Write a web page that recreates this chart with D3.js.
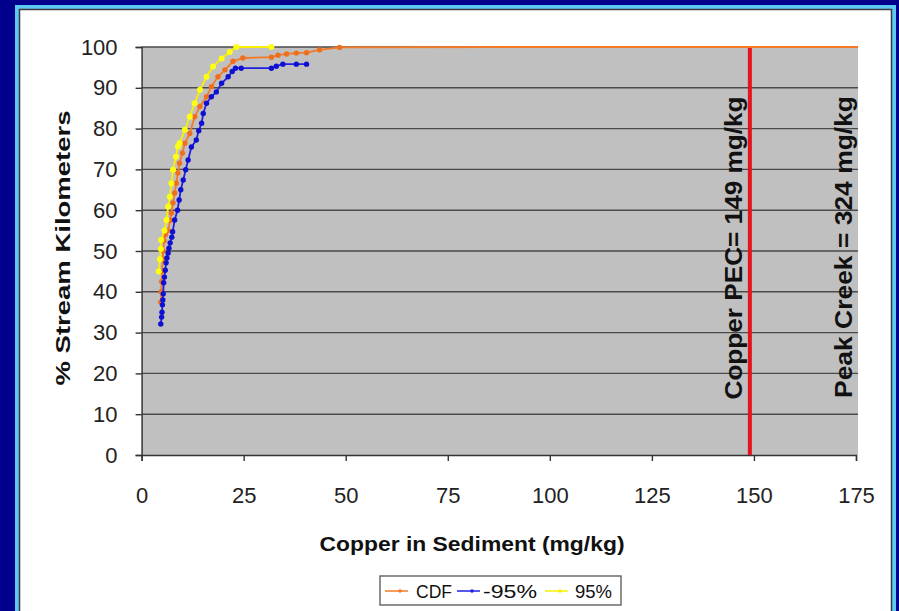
<!DOCTYPE html>
<html>
<head>
<meta charset="utf-8">
<script src="https://cdn.jsdelivr.net/npm/d3@7/dist/d3.min.js"></script>
<style>
  html, body { margin: 0; padding: 0; background: #00008c; }
  svg { display: block; }
  text { font-family: "Liberation Sans", Arial, sans-serif; }
</style>
</head>
<body>
<svg id="chart" width="899" height="611"></svg>
<script>
// Cumulative distribution of copper in sediment, with 95% confidence bounds.
// Each pair is [copper mg/kg, % stream kilometers].
const cdfSeries = [
  [4.7,37.5],[4.8,40],[4.9,42.5],[5.0,45],[5.2,48],[5.3,50],[5.5,52.5],[5.8,54],
  [6.5,55],[7.0,57.5],[7.3,59.3],[7.7,61.8],[8.1,64.2],[8.5,66.6],[8.9,69.1],
  [9.3,71.5],[10.0,74.0],[10.6,76.4],[11.8,78.8],[13.0,82.9],[14.3,85.4],
  [15.9,87.8],[17.1,90.3],[18.7,92.7],[20.4,94.4],[22.4,96.5],[24.8,97.3],
  [31.8,97.5],[33.4,98.0],[35.5,98.3],[37.9,98.5],[40.4,98.6],[43.6,99.3],
  [48.5,99.9],[92,100],[324,100]
];
const lowerSeries = [
  [4.7,32.1],[4.9,33.8],[5.0,35.0],[5.1,36.8],[5.2,38.0],[5.3,39.5],[5.4,42.2],
  [5.6,43.6],[5.8,45.3],[6.0,47.1],[6.2,48.3],[6.5,49.5],[6.7,50.7],[7.0,52.0],
  [7.4,53.4],[7.6,54.7],[8.1,57.6],[8.8,60.0],[9.2,62.5],[9.6,65.0],[10.2,67.4],
  [10.8,69.9],[11.4,72.3],[12.2,75.5],[13.4,77.2],[14.0,79.5],[14.7,81.3],
  [15.1,83.7],[15.9,86.2],[17.1,87.8],[18.3,89.0],[19.6,91.1],[21.2,92.7],
  [22.2,94.0],[23.0,94.8],[24.4,94.8],[31.8,94.8],[33.0,95.3],[34.6,95.8],
  [37.9,95.8],[40.4,95.8]
];
const upperSeries = [
  [4.2,45],[4.5,48],[4.7,50.5],[4.8,52.7],[5.6,55],[6.1,57.6],[6.5,60.9],
  [6.9,63.3],[7.3,66.6],[7.7,69.9],[8.4,73.1],[8.9,75.6],[9.3,76.4],[10.6,79.7],
  [11.8,82.9],[13.0,86.2],[14.3,89.5],[15.9,92.7],[17.5,95.2],[19.6,97.2],
  [21.6,98.8],[23.2,100],[31.8,100]
];
const seriesNames = ["CDF", "-95%", "95%"];
const xTicks = [0, 25, 50, 75, 100, 125, 150, 175];
const yTicks = [0, 10, 20, 30, 40, 50, 60, 70, 80, 90, 100];
const pecValue = 149;
const peakValue = 324;

const svg = d3.select("#chart");

// slide frame and white chart panel
svg.append("rect").attr("x", 0).attr("y", 0).attr("width", 899).attr("height", 611).attr("fill", "#00008c");
svg.append("rect").attr("x", 15).attr("y", 5).attr("width", 881).attr("height", 620).attr("fill", "#5ec8f4");
svg.append("rect").attr("x", 19.5).attr("y", 9.5).attr("width", 872).attr("height", 620)
  .attr("fill", "#ffffff").attr("stroke", "#3a3a3a").attr("stroke-width", 1.5);

const plot = { left: 141.6, right: 856, top: 47, bottom: 455 };
const x = d3.scaleLinear().domain([0, 175]).range([plot.left, plot.right]);
const y = d3.scaleLinear().domain([0, 100]).range([plot.bottom, plot.top]);

svg.append("defs").append("clipPath").attr("id", "plotClip")
  .append("rect").attr("x", plot.left).attr("y", plot.top - 4)
  .attr("width", plot.right - plot.left + 2).attr("height", plot.bottom - plot.top + 8);

// plot background
svg.append("rect").attr("x", plot.left).attr("y", plot.top)
  .attr("width", plot.right - plot.left + 2).attr("height", plot.bottom - plot.top)
  .attr("fill", "#c0c0c0");

// horizontal gridlines
svg.append("g").selectAll("line").data(yTicks.filter(d => d > 0)).join("line")
  .attr("x1", plot.left).attr("x2", plot.right + 2)
  .attr("y1", d => y(d)).attr("y2", d => y(d))
  .attr("stroke", "#4a4a4a").attr("stroke-width", 1.4);

// axes
const yAxis = svg.append("g").attr("transform", `translate(${plot.left},0)`)
  .call(d3.axisLeft(y).tickValues(yTicks).tickSize(6).tickPadding(5));
const xAxis = svg.append("g").attr("transform", `translate(0,${plot.bottom})`)
  .call(d3.axisBottom(x).tickValues(xTicks).tickSize(6).tickPadding(34));
[yAxis, xAxis].forEach(g => {
  g.select(".domain").attr("stroke", "#333").attr("stroke-width", 1.4);
  g.selectAll(".tick line").attr("stroke", "#333").attr("stroke-width", 1.4);
  g.selectAll(".tick text").attr("fill", "#222").attr("font-size", 22)
    .attr("font-family", "'Liberation Sans', Arial, sans-serif");
});
yAxis.selectAll(".tick text").attr("x", -24);
xAxis.selectAll(".tick text").attr("dy", "0.36em");

// threshold line: copper PEC
svg.append("line")
  .attr("x1", x(pecValue)).attr("x2", x(pecValue))
  .attr("y1", y(0)).attr("y2", y(100))
  .attr("stroke", "#e3141c").attr("stroke-width", 4);

// series
const line = d3.line().x(d => x(d[0])).y(d => y(d[1]));
const layers = [
  { data: cdfSeries, color: "#f47a25", dot: "#ef6f1f", r: 2.7 },
  { data: lowerSeries, color: "#2020e0", dot: "#1010d0", r: 2.7 },
  { data: upperSeries, color: "#f8f000", dot: "#ffff10", r: 3 }
];
const seriesG = svg.append("g").attr("clip-path", "url(#plotClip)");
layers.forEach(s => {
  seriesG.append("path").datum(s.data).attr("d", line)
    .attr("fill", "none").attr("stroke", s.color).attr("stroke-width", 1.8);
  seriesG.append("g").selectAll("circle").data(s.data.filter(d => d[0] < 60)).join("circle")
    .attr("cx", d => x(d[0])).attr("cy", d => y(d[1])).attr("r", s.r)
    .attr("fill", s.dot);
});

// vertical annotations
svg.append("text")
  .attr("transform", `translate(${x(pecValue) - 8},248) rotate(-90)`)
  .attr("text-anchor", "middle").attr("font-size", 24).attr("font-weight", "bold")
  .attr("fill", "#111").attr("textLength", 303).attr("lengthAdjust", "spacingAndGlyphs")
  .text(`Copper PEC= ${pecValue} mg/kg`);
svg.append("text")
  .attr("transform", `translate(852,247) rotate(-90)`)
  .attr("text-anchor", "middle").attr("font-size", 24).attr("font-weight", "bold")
  .attr("fill", "#111").attr("textLength", 302).attr("lengthAdjust", "spacingAndGlyphs")
  .text(`Peak Creek = ${peakValue} mg/kg`);

// axis titles
svg.append("text")
  .attr("x", 472).attr("y", 551).attr("text-anchor", "middle")
  .attr("font-size", 21).attr("font-weight", "bold").attr("fill", "#111")
  .attr("textLength", 305).attr("lengthAdjust", "spacingAndGlyphs")
  .text("Copper in Sediment (mg/kg)");
svg.append("text")
  .attr("transform", "translate(70,248) rotate(-90)")
  .attr("text-anchor", "middle").attr("font-size", 20).attr("font-weight", "bold")
  .attr("fill", "#111").attr("textLength", 275).attr("lengthAdjust", "spacingAndGlyphs")
  .text("% Stream Kilometers");

// legend
const legend = svg.append("g");
legend.append("rect").attr("x", 380).attr("y", 576).attr("width", 241).attr("height", 29)
  .attr("fill", "#fff").attr("stroke", "#555").attr("stroke-width", 1.3);
const legendItems = [
  { name: seriesNames[0], color: "#f47a25", x0: 385, tx: 416, tl: 36 },
  { name: seriesNames[1], color: "#2020e0", x0: 457, tx: 483, tl: 54 },
  { name: seriesNames[2], color: "#f6f000", x0: 545, tx: 575, tl: 37 }
];
legendItems.forEach(it => {
  legend.append("line").attr("x1", it.x0).attr("x2", it.x0 + 23)
    .attr("y1", 591).attr("y2", 591).attr("stroke", it.color).attr("stroke-width", 1.5);
  legend.append("circle").attr("cx", it.x0 + 15).attr("cy", 591).attr("r", 1.8).attr("fill", it.color);
  legend.append("text").attr("x", it.tx).attr("y", 598)
    .attr("font-size", 18).attr("fill", "#111")
    .attr("textLength", it.tl).attr("lengthAdjust", "spacingAndGlyphs")
    .text(it.name);
});
</script>
</body>
</html>
